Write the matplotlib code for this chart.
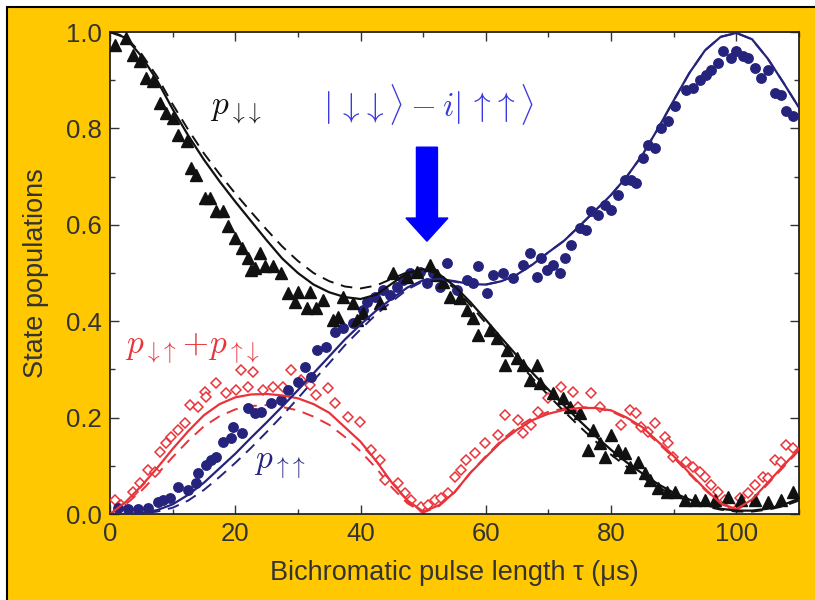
import numpy as np
import matplotlib
matplotlib.use("Agg")
import matplotlib.pyplot as plt
from matplotlib.patches import Rectangle

plt.rcParams['font.family'] = ['Liberation Sans', 'DejaVu Sans']
plt.rcParams['mathtext.fontset'] = 'cm'

# %%
# measured populations (read off the figure)
tri_x = [0.75, 2.6, 3.7, 4.8, 5.7, 6.9, 8.0, 8.9, 10.0, 10.9, 12.3, 13.0, 13.7, 15.2, 16.0, 16.9, 18.0,
         18.8, 20.0, 21.0, 22.0, 22.5, 23.1, 23.9, 24.7, 26.0, 27.3, 28.4, 29.5, 30.0, 31.4, 31.9, 32.9,
         34.0, 35.6, 36.4, 37.2, 38.8, 39.4, 40.4, 43.1, 45.2, 47.4, 49.0, 51.1, 52.2, 53.2, 54.3, 55.9,
         57.0, 58.0, 58.8, 60.7, 61.8, 63.1, 63.4, 65.0, 66.0, 67.0, 68.2, 68.7, 70.8, 72.3, 73.4, 75.0,
         76.3, 77.1, 78.2, 79.0, 80.0, 81.1, 82.2, 83.0, 84.3, 85.4, 86.2, 87.5, 89.0, 90.2, 91.8, 93.4,
         95.0, 96.6, 98.7, 100.7, 103.0, 105.0, 107.1, 109.0]
tri_y = [0.974, 0.988, 0.952, 0.940, 0.905, 0.898, 0.853, 0.832, 0.822, 0.787, 0.774, 0.718, 0.703, 0.656,
         0.656, 0.629, 0.629, 0.598, 0.573, 0.552, 0.531, 0.506, 0.510, 0.541, 0.515, 0.515, 0.500, 0.458,
         0.440, 0.460, 0.427, 0.460, 0.427, 0.444, 0.402, 0.409, 0.450, 0.437, 0.402, 0.417, 0.437, 0.500,
         0.492, 0.502, 0.516, 0.496, 0.481, 0.450, 0.448, 0.423, 0.407, 0.371, 0.382, 0.365, 0.309, 0.340,
         0.324, 0.309, 0.278, 0.309, 0.272, 0.251, 0.240, 0.222, 0.210, 0.133, 0.174, 0.147, 0.118, 0.164,
         0.133, 0.126, 0.098, 0.108, 0.085, 0.070, 0.054, 0.046, 0.046, 0.029, 0.029, 0.029, 0.029, 0.035,
         0.029, 0.029, 0.025, 0.029, 0.046]

circ_x = [1.3, 2.9, 4.5, 6.0, 7.7, 8.5, 9.6, 10.9, 12.5, 13.7, 14.0, 15.3, 16.1, 16.9, 18.0, 19.3, 19.6,
          21.0, 22.0, 23.1, 24.1, 25.7, 27.3, 28.4, 30.0, 31.1, 32.1, 33.0, 34.5, 35.9, 37.2, 38.8, 40.4,
          41.0, 42.3, 43.6, 44.7, 45.8, 46.8, 47.9, 49.5, 50.6, 51.6, 52.7, 53.8, 55.4, 57.0, 58.0, 58.8,
          60.2, 61.1, 62.7, 64.3, 66.0, 67.0, 68.2, 68.8, 69.8, 70.8, 71.8, 72.6, 73.6, 75.0, 76.0, 76.8,
          77.9, 79.0, 80.0, 81.1, 82.2, 83.2, 84.0, 85.1, 85.9, 87.0, 88.0, 89.1, 90.2, 92.0, 93.1, 94.2,
          95.2, 96.0, 97.1, 97.9, 99.1, 100.0, 101.0, 101.9, 103.0, 104.0, 105.0, 106.2, 107.1, 107.9, 109.0]
circ_y = [0.012, 0.010, 0.010, 0.012, 0.025, 0.029, 0.033, 0.056, 0.050, 0.064, 0.085, 0.102, 0.112, 0.118,
          0.149, 0.158, 0.180, 0.168, 0.220, 0.210, 0.212, 0.230, 0.237, 0.257, 0.274, 0.305, 0.284, 0.340,
          0.346, 0.378, 0.386, 0.396, 0.423, 0.440, 0.450, 0.465, 0.454, 0.471, 0.485, 0.500, 0.502, 0.479,
          0.500, 0.471, 0.521, 0.465, 0.485, 0.479, 0.515, 0.458, 0.496, 0.500, 0.490, 0.517, 0.541, 0.492,
          0.531, 0.506, 0.517, 0.500, 0.531, 0.558, 0.593, 0.589, 0.629, 0.620, 0.641, 0.631, 0.662, 0.693,
          0.693, 0.687, 0.739, 0.766, 0.759, 0.801, 0.815, 0.846, 0.880, 0.884, 0.900, 0.911, 0.921, 0.936,
          0.960, 0.946, 0.960, 0.950, 0.946, 0.925, 0.905, 0.921, 0.873, 0.869, 0.836, 0.826]

dia_x = [0.8, 1.8, 3.7, 4.8, 6.0, 7.2, 8.0, 8.9, 9.7, 10.9, 11.9, 12.8, 14.0, 15.2, 15.3, 16.9, 18.5, 20.1,
         20.9, 22.0, 22.8, 24.4, 26.0, 27.6, 28.9, 30.5, 31.9, 32.9, 34.8, 35.9, 38.0, 39.9, 41.7, 43.1,
         43.9, 46.0, 47.1, 48.1, 49.7, 50.8, 51.9, 52.8, 54.0, 55.1, 56.0, 56.8, 58.3, 59.9, 61.9, 63.1,
         65.1, 66.0, 67.2, 68.3, 70.0, 72.0, 73.9, 74.7, 76.8, 78.2, 81.6, 83.0, 84.0, 84.8, 85.9, 87.0,
         88.6, 89.1, 89.9, 92.0, 93.1, 94.2, 95.0, 96.0, 97.1, 98.2, 99.1, 100.6, 101.9, 103.0, 104.3,
         105.0, 106.2, 107.1, 107.9, 109.0]
dia_y = [0.029, 0.019, 0.046, 0.064, 0.091, 0.087, 0.129, 0.147, 0.160, 0.174, 0.189, 0.226, 0.222, 0.253,
         0.243, 0.272, 0.251, 0.257, 0.299, 0.264, 0.295, 0.257, 0.264, 0.264, 0.299, 0.278, 0.268, 0.247,
         0.261, 0.230, 0.201, 0.191, 0.133, 0.112, 0.071, 0.064, 0.044, 0.029, 0.015, 0.019, 0.029, 0.033,
         0.044, 0.077, 0.091, 0.112, 0.126, 0.147, 0.164, 0.205, 0.195, 0.168, 0.185, 0.212, 0.240, 0.264,
         0.253, 0.222, 0.251, 0.222, 0.185, 0.216, 0.210, 0.180, 0.170, 0.189, 0.160, 0.147, 0.118, 0.108,
         0.098, 0.087, 0.077, 0.060, 0.046, 0.029, 0.019, 0.033, 0.044, 0.060, 0.077, 0.075, 0.112, 0.108,
         0.143, 0.137]

# %%
# theory curves (solid = fit, dashed = model), sampled every 2.5 us
t_fit = [0, 2.5, 5, 7.5, 10, 12.5, 15, 17.5, 20, 22.5, 25, 27.5, 30, 32.5, 35, 37.5, 40, 42.5, 45, 47.5,
         50, 52.5, 55, 57.5, 60, 62.5, 65, 67.5, 70, 72.5, 75, 77.5, 80, 82.5, 85, 87.5, 90, 92.5, 95,
         97.5, 100, 102.5, 105, 107.5, 110]

pdd_solid = [1.000, 0.988, 0.950, 0.900, 0.840, 0.785, 0.735, 0.690, 0.648, 0.608, 0.568, 0.530, 0.500,
             0.476, 0.460, 0.450, 0.446, 0.455, 0.478, 0.500, 0.508, 0.498, 0.473, 0.440, 0.403, 0.365,
             0.328, 0.292, 0.258, 0.225, 0.193, 0.162, 0.133, 0.107, 0.084, 0.062, 0.044, 0.030, 0.019,
             0.011, 0.007, 0.007, 0.011, 0.019, 0.032]
pdd_dash = [1.000, 0.990, 0.955, 0.908, 0.850, 0.797, 0.748, 0.705, 0.665, 0.627, 0.590, 0.555, 0.525,
            0.500, 0.483, 0.472, 0.468, 0.474, 0.488, 0.502, 0.505, 0.494, 0.468, 0.434, 0.396, 0.357,
            0.318, 0.281, 0.246, 0.213, 0.181, 0.151, 0.123, 0.098, 0.076, 0.056, 0.039, 0.026, 0.016,
            0.009, 0.005, 0.005, 0.009, 0.016, 0.028]

puu_solid = [0.000, 0.000, 0.002, 0.008, 0.020, 0.040, 0.065, 0.095, 0.125, 0.158, 0.190, 0.223, 0.257,
             0.292, 0.327, 0.362, 0.393, 0.422, 0.447, 0.470, 0.485, 0.488, 0.483, 0.477, 0.476, 0.483,
             0.497, 0.518, 0.543, 0.567, 0.598, 0.630, 0.662, 0.700, 0.745, 0.800, 0.858, 0.915, 0.962,
             0.990, 0.998, 0.985, 0.945, 0.895, 0.843]
puu_dash = [0.000, 0.000, 0.001, 0.005, 0.013, 0.028, 0.050, 0.077, 0.106, 0.137, 0.170, 0.204, 0.240,
            0.277, 0.313, 0.350, 0.383, 0.414, 0.441, 0.466, 0.483, 0.487, 0.482, 0.476, 0.476, 0.483,
            0.497, 0.518, 0.543, 0.567, 0.598, 0.630, 0.662, 0.700, 0.745, 0.800, 0.858, 0.915, 0.962,
            0.990, 0.998, 0.985, 0.945, 0.895, 0.843]

podd_solid = [0.000, 0.025, 0.058, 0.095, 0.135, 0.172, 0.205, 0.228, 0.242, 0.248, 0.249, 0.246, 0.240,
              0.228, 0.210, 0.180, 0.150, 0.110, 0.065, 0.028, 0.005, 0.018, 0.045, 0.085, 0.118, 0.150,
              0.175, 0.195, 0.208, 0.216, 0.220, 0.220, 0.215, 0.200, 0.180, 0.150, 0.120, 0.085, 0.052,
              0.022, 0.010, 0.030, 0.065, 0.100, 0.135]
podd_dash = [0.000, 0.020, 0.048, 0.082, 0.118, 0.152, 0.182, 0.203, 0.217, 0.224, 0.226, 0.222, 0.215,
             0.202, 0.185, 0.160, 0.130, 0.095, 0.055, 0.022, 0.003, 0.016, 0.045, 0.085, 0.120, 0.153,
             0.180, 0.200, 0.212, 0.219, 0.222, 0.220, 0.213, 0.198, 0.177, 0.147, 0.117, 0.083, 0.050,
             0.021, 0.008, 0.028, 0.062, 0.097, 0.132]

# %%
black = "#111111"
navy = "#25237c"
red = "#e8333a"
gold = "#ffc800"

fig = plt.figure(figsize=(8.15, 6), dpi=100)
fig.patch.set_facecolor("white")
fig.patches.append(Rectangle((7 / 815, -0.01), 1.0, 593 / 600 + 0.01, transform=fig.transFigure,
                             facecolor=gold, edgecolor="black", linewidth=1.5, zorder=-10))

ax = fig.add_axes([110 / 815, 86 / 600, 689 / 815, 482 / 600])
ax.set_facecolor("white")

ax.plot(t_fit, podd_dash, color=red, lw=1.4, ls=(0, (6, 4)), zorder=2)
ax.plot(t_fit, puu_dash, color=navy, lw=1.4, ls=(0, (6, 4)), zorder=2)
ax.plot(t_fit, pdd_dash, color=black, lw=1.4, ls=(0, (6, 4)), zorder=2)

ax.plot(dia_x, dia_y, ls="none", marker="D", ms=5.5, mfc="white", mec=red, mew=1.1, zorder=3)
ax.plot(circ_x, circ_y, ls="none", marker="o", ms=6.8, mfc=navy, mec=navy, zorder=3)
ax.plot(tri_x, tri_y, ls="none", marker="^", ms=8, mfc=black, mec=black, zorder=3)

ax.plot(t_fit, podd_solid, color=red, lw=1.6, zorder=4)
ax.plot(t_fit, puu_solid, color=navy, lw=1.6, zorder=4)
ax.plot(t_fit, pdd_solid, color=black, lw=1.6, zorder=4)

# arrow pointing at the Bell state
ax.arrow(50.6, 0.761, 0, -0.195, width=3.35, head_width=6.7, head_length=0.048,
         length_includes_head=True, color="#0000ff", zorder=5)

# labels placed in figure pixels (from top-left)
def fig_xy(px, py):
    return px / 815, 1 - py / 600

dd = r"\downarrow\!\downarrow"
uu = r"\uparrow\!\uparrow"
du = r"\downarrow\!\uparrow"
ud = r"\uparrow\!\downarrow"
ax.text(*fig_xy(192, 348), r"$p_{" + du + r"}\!+\!p_{" + ud + r"}$", transform=fig.transFigure,
        color=red, fontsize=24, ha="center", va="center")
ax.text(*fig_xy(236, 110), r"$p_{" + dd + r"}$", transform=fig.transFigure, color=black,
        fontsize=24, ha="center", va="center")
ax.text(*fig_xy(280, 467), r"$p_{" + uu + r"}$", transform=fig.transFigure, color=navy,
        fontsize=24, ha="center", va="center")
ax.text(*fig_xy(429, 105), r"$|\," + dd + r"\rangle - i|\," + uu + r"\rangle$",
        transform=fig.transFigure, color="#3a3ae0", fontsize=24, ha="center", va="center")

ax.set_xlim(0, 110)
ax.set_ylim(0, 1.0)
ax.set_xticks(np.arange(0, 101, 20))
ax.set_xticks(np.arange(0, 111, 10), minor=True)
ax.set_yticks(np.arange(0, 1.01, 0.2))
ax.set_yticks(np.arange(0, 1.01, 0.1), minor=True)
ax.set_yticklabels(["0.0", "0.2", "0.4", "0.6", "0.8", "1.0"])
ax.tick_params(which="both", direction="in", top=True, right=True, color="#333333",
               labelsize=18.5, labelcolor="#333333", width=1.0)
ax.tick_params(which="major", length=6.5, pad=6)
ax.tick_params(which="minor", length=3.6)
for s in ax.spines.values():
    s.set_linewidth(1.3)
    s.set_color("#222222")

ax.set_xlabel("Bichromatic pulse length τ (μs)", fontsize=19.5, color="#333333", labelpad=10)
ax.set_ylabel("State populations", fontsize=19.5, color="#333333", labelpad=12)

fig.savefig("out.png", dpi=100)
